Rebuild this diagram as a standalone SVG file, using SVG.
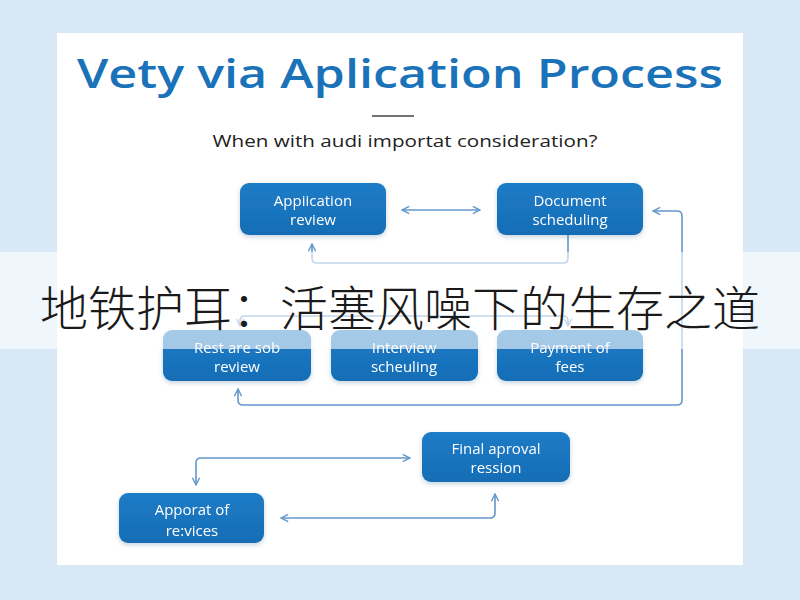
<svg xmlns="http://www.w3.org/2000/svg" width="800" height="600" viewBox="0 0 800 600">
<defs>
<style>
.box{fill:url(#bg);}
.lbl{font-family:"Open Sans","Noto Sans",sans-serif;font-size:15px;fill:#ffffff;text-anchor:middle;}
.con{fill:none;stroke:#6498cb;stroke-width:1.6;marker-start:url(#ah);marker-end:url(#ah);}
.one{fill:none;stroke:#6498cb;stroke-width:1.6;marker-end:url(#ah);}
</style>
<linearGradient id="bg" x1="0" y1="0" x2="0" y2="1">
<stop offset="0" stop-color="#1e7cc6"/>
<stop offset="1" stop-color="#156db6"/>
</linearGradient>
<filter id="sh" x="-10%" y="-10%" width="120%" height="130%">
<feDropShadow dx="0" dy="2" stdDeviation="2" flood-color="#1a4f80" flood-opacity="0.25"/>
</filter>
<marker id="ah" viewBox="0 0 10 10" refX="9" refY="5" markerWidth="9" markerHeight="9" markerUnits="userSpaceOnUse" orient="auto-start-reverse">
<path d="M1,1 L9,5 L1,9" fill="none" stroke="#6498cb" stroke-width="1.6"/>
</marker>
</defs>
<rect x="0" y="0" width="800" height="600" fill="#d8e8f7"/>
<rect x="57" y="33" width="686" height="532" fill="#ffffff"/>
<text x="400" y="88" font-family="'Open Sans','Noto Sans',sans-serif" font-size="40" font-weight="600" fill="#1a72b8" text-anchor="middle" textLength="646" lengthAdjust="spacingAndGlyphs">Vety via Aplication Process</text>
<line x1="372" y1="116" x2="414" y2="116" stroke="#444" stroke-width="1.5"/>
<text x="405" y="147" font-family="'Open Sans','Noto Sans',sans-serif" font-size="17" fill="#222" text-anchor="middle" textLength="385" lengthAdjust="spacingAndGlyphs">When with audi importat consideration?</text>
<g id="connectors">
<path class="con" d="M402,210 H480"/>
<path class="one" d="M568,235 V258 Q568,263 563,263 H317 Q312,263 312,258 V244"/>
<path class="con" d="M653,211 H677 Q682,211 682,216 V400 Q682,405 677,405 H243 Q238,405 238,400 V389"/>
<path class="con" d="M240,326 V321 Q240,316 245,316 H563 Q568,316 568,321 V326"/>
<path class="con" d="M410,458 H201 Q196,458 196,463 V485"/>
<path class="con" d="M281,518 H490 Q495,518 495,513 V494"/>
</g>
<g id="n1" filter="url(#sh)"><rect class="box" x="240" y="183" width="146" height="52" rx="9"/><text class="lbl" x="313" y="206">Appiication</text><text class="lbl" x="313" y="225">review</text></g>
<g id="n2" filter="url(#sh)"><rect class="box" x="497" y="183" width="146" height="52" rx="9"/><text class="lbl" x="570" y="206">Document</text><text class="lbl" x="570" y="225">scheduling</text></g>
<g id="n3" filter="url(#sh)"><rect class="box" x="163" y="330" width="148" height="51" rx="9"/><text class="lbl" x="237" y="353">Rest are sob</text><text class="lbl" x="237" y="372">review</text></g>
<g id="n4" filter="url(#sh)"><rect class="box" x="331" y="330" width="147" height="51" rx="9"/><text class="lbl" x="404" y="353">Interview</text><text class="lbl" x="404" y="372">scheuling</text></g>
<g id="n5" filter="url(#sh)"><rect class="box" x="497" y="330" width="146" height="51" rx="9"/><text class="lbl" x="570" y="353">Payment of</text><text class="lbl" x="570" y="372">fees</text></g>
<g id="n6" filter="url(#sh)"><rect class="box" x="422" y="432" width="148" height="50" rx="9"/><text class="lbl" x="496" y="454">Final aproval</text><text class="lbl" x="496" y="473">ression</text></g>
<g id="n7" filter="url(#sh)"><rect class="box" x="119" y="493" width="145" height="50" rx="9"/><text class="lbl" x="192" y="515" font-size="17">Apporat of</text><text class="lbl" x="192" y="536" font-size="17">re:vices</text></g>
<rect x="0" y="252" width="800" height="97" fill="#ffffff" fill-opacity="0.6"/>
<text x="400" y="326" font-family="'Noto Sans CJK SC',sans-serif" font-size="48" font-weight="300" fill="#1a1a1a" text-anchor="middle">地铁护耳：活塞风噪下的生存之道</text>
</svg>
